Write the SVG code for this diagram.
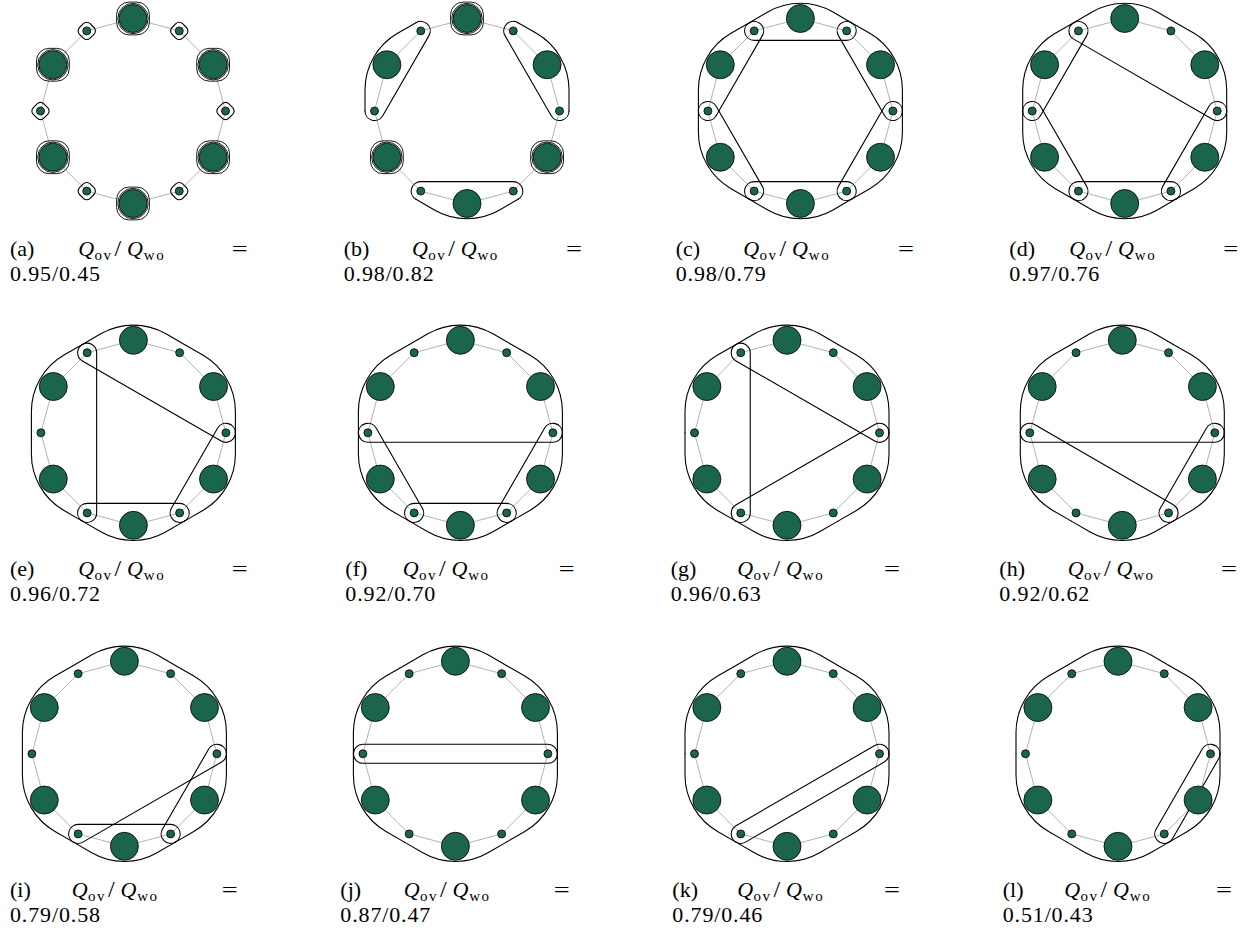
<svg xmlns="http://www.w3.org/2000/svg" xmlns:xlink="http://www.w3.org/1999/xlink" width="1248" height="932" viewBox="0 0 1248 932">
<style>
.edge{fill:none;stroke:#b3b3b3;stroke-width:1}
.B,.S{fill:#1b654c;stroke:#000;stroke-width:0.8}
.h{fill:none;stroke:#000;stroke-width:1.1;stroke-linecap:round;stroke-linejoin:round}
.h2{fill:none;stroke:#000;stroke-width:0.9}
text{font-family:"Liberation Serif","Times New Roman",serif;font-size:22px;fill:#000}
.it{font-style:italic}
.sub{font-size:15px;letter-spacing:1.5px}
.sl{font-size:24px}
</style>
<defs>
<polygon id="ring" class="edge" points="0,-92.5 46.25,-80.11 80.11,-46.25 92.5,0 80.11,46.25 46.25,80.11 0,92.5 -46.25,80.11 -80.11,46.25 -92.5,0 -80.11,-46.25 -46.25,-80.11"/>
<path id="ob" class="h" d="M-51,-88.334 L-32.6,-98.96 A65.2,65.2 0 0 1 32.6,-98.96 L51,-88.334"/>
<path id="c60" class="h" d="M51,-88.334 A9.5,9.5 0 0 1 46.25,-70.608 L-46.25,-70.608 A9.5,9.5 0 0 1 -51,-88.334"/>
<path id="c120" class="h" d="M88.334,-51 A9.5,9.5 0 0 1 80.108,-36.75 L-80.108,-36.75 A9.5,9.5 0 0 1 -88.334,-51"/>
<path id="c180" class="h" d="M102,0 A9.5,9.5 0 0 1 92.5,9.5 L-92.5,9.5 A9.5,9.5 0 0 1 -102,0"/>
<path id="c240" class="h" d="M88.334,51 A9.5,9.5 0 0 1 80.108,55.75 L-80.108,55.75 A9.5,9.5 0 0 1 -88.334,51"/>
<path id="c300" class="h" d="M51,88.334 A9.5,9.5 0 0 1 46.25,89.608 L-46.25,89.608 A9.5,9.5 0 0 1 -51,88.334"/>
<rect id="ss" class="h" x="-7.5" y="-7.5" width="15" height="15" rx="4.8" transform="rotate(45)"/>
<g id="sb"><circle class="h2" r="15.2"/><rect class="h2" x="-16.4" y="-16.4" width="32.8" height="32.8" rx="12.5"/></g>
</defs>

<!-- Panel a -->
<g id="panel-a" transform="translate(133,111)">
<g class="connectors"><use href="#ring"/></g>
<g id="a-communities">
<use href="#sb" x="0" y="-92.5"/><use href="#sb" x="80.11" y="-46.25"/><use href="#sb" x="80.11" y="46.25"/><use href="#sb" x="0" y="92.5"/><use href="#sb" x="-80.11" y="46.25"/><use href="#sb" x="-80.11" y="-46.25"/>
<use href="#ss" x="46.25" y="-80.11"/><use href="#ss" x="92.5" y="0"/><use href="#ss" x="46.25" y="80.11"/><use href="#ss" x="-46.25" y="80.11"/><use href="#ss" x="-92.5" y="0"/><use href="#ss" x="-46.25" y="-80.11"/>
</g>
<g id="a-n0"><circle class="B" cx="0" cy="-92.5" r="14"/></g>
<g id="a-n1"><circle class="S" cx="46.25" cy="-80.11" r="4"/></g>
<g id="a-n2"><circle class="B" cx="80.11" cy="-46.25" r="14"/></g>
<g id="a-n3"><circle class="S" cx="92.5" cy="0" r="4"/></g>
<g id="a-n4"><circle class="B" cx="80.11" cy="46.25" r="14"/></g>
<g id="a-n5"><circle class="S" cx="46.25" cy="80.11" r="4"/></g>
<g id="a-n6"><circle class="B" cx="0" cy="92.5" r="14"/></g>
<g id="a-n7"><circle class="S" cx="-46.25" cy="80.11" r="4"/></g>
<g id="a-n8"><circle class="B" cx="-80.11" cy="46.25" r="14"/></g>
<g id="a-n9"><circle class="S" cx="-92.5" cy="0" r="4"/></g>
<g id="a-n10"><circle class="B" cx="-80.11" cy="-46.25" r="14"/></g>
<g id="a-n11"><circle class="S" cx="-46.25" cy="-80.11" r="4"/></g>
</g>

<!-- Panel b -->
<g id="panel-b" transform="translate(467,111)">
<g class="connectors"><use href="#ring"/></g>
<g id="b-communities">
<g><use href="#ob" transform="rotate(300)"/><use href="#c60" transform="rotate(300)"/></g>
<g><use href="#ob" transform="rotate(60)"/><use href="#c60" transform="rotate(60)"/></g>
<g><use href="#ob" transform="rotate(180)"/><use href="#c60" transform="rotate(180)"/></g>
<use href="#sb" x="0" y="-92.5"/><use href="#sb" x="80.11" y="46.25"/><use href="#sb" x="-80.11" y="46.25"/>
</g>
<g id="b-n0"><circle class="B" cx="0" cy="-92.5" r="14"/></g>
<g id="b-n1"><circle class="S" cx="46.25" cy="-80.11" r="4"/></g>
<g id="b-n2"><circle class="B" cx="80.11" cy="-46.25" r="14"/></g>
<g id="b-n3"><circle class="S" cx="92.5" cy="0" r="4"/></g>
<g id="b-n4"><circle class="B" cx="80.11" cy="46.25" r="14"/></g>
<g id="b-n5"><circle class="S" cx="46.25" cy="80.11" r="4"/></g>
<g id="b-n6"><circle class="B" cx="0" cy="92.5" r="14"/></g>
<g id="b-n7"><circle class="S" cx="-46.25" cy="80.11" r="4"/></g>
<g id="b-n8"><circle class="B" cx="-80.11" cy="46.25" r="14"/></g>
<g id="b-n9"><circle class="S" cx="-92.5" cy="0" r="4"/></g>
<g id="b-n10"><circle class="B" cx="-80.11" cy="-46.25" r="14"/></g>
<g id="b-n11"><circle class="S" cx="-46.25" cy="-80.11" r="4"/></g>
</g>

<!-- Panel c -->
<g id="panel-c" transform="translate(800.4,111)">
<g class="connectors"><use href="#ring"/></g>
<g id="c-communities">
<g><use href="#ob"/><use href="#c60"/></g>
<g><use href="#ob" transform="rotate(60)"/><use href="#c60" transform="rotate(60)"/></g>
<g><use href="#ob" transform="rotate(120)"/><use href="#c60" transform="rotate(120)"/></g>
<g><use href="#ob" transform="rotate(180)"/><use href="#c60" transform="rotate(180)"/></g>
<g><use href="#ob" transform="rotate(240)"/><use href="#c60" transform="rotate(240)"/></g>
<g><use href="#ob" transform="rotate(300)"/><use href="#c60" transform="rotate(300)"/></g>
</g>
<g id="c-n0"><circle class="B" cx="0" cy="-92.5" r="14"/></g>
<g id="c-n1"><circle class="S" cx="46.25" cy="-80.11" r="4"/></g>
<g id="c-n2"><circle class="B" cx="80.11" cy="-46.25" r="14"/></g>
<g id="c-n3"><circle class="S" cx="92.5" cy="0" r="4"/></g>
<g id="c-n4"><circle class="B" cx="80.11" cy="46.25" r="14"/></g>
<g id="c-n5"><circle class="S" cx="46.25" cy="80.11" r="4"/></g>
<g id="c-n6"><circle class="B" cx="0" cy="92.5" r="14"/></g>
<g id="c-n7"><circle class="S" cx="-46.25" cy="80.11" r="4"/></g>
<g id="c-n8"><circle class="B" cx="-80.11" cy="46.25" r="14"/></g>
<g id="c-n9"><circle class="S" cx="-92.5" cy="0" r="4"/></g>
<g id="c-n10"><circle class="B" cx="-80.11" cy="-46.25" r="14"/></g>
<g id="c-n11"><circle class="S" cx="-46.25" cy="-80.11" r="4"/></g>
</g>

<!-- Panel d -->
<g id="panel-d" transform="translate(1124.7,111)">
<g class="connectors"><use href="#ring"/></g>
<g id="d-communities">
<g><use href="#ob"/><use href="#ob" transform="rotate(60)"/><use href="#c120" transform="rotate(30)"/></g>
<g><use href="#ob" transform="rotate(120)"/><use href="#c60" transform="rotate(120)"/></g>
<g><use href="#ob" transform="rotate(180)"/><use href="#c60" transform="rotate(180)"/></g>
<g><use href="#ob" transform="rotate(240)"/><use href="#c60" transform="rotate(240)"/></g>
<g><use href="#ob" transform="rotate(300)"/><use href="#c60" transform="rotate(300)"/></g>
</g>
<g id="d-n0"><circle class="B" cx="0" cy="-92.5" r="14"/></g>
<g id="d-n1"><circle class="S" cx="46.25" cy="-80.11" r="4"/></g>
<g id="d-n2"><circle class="B" cx="80.11" cy="-46.25" r="14"/></g>
<g id="d-n3"><circle class="S" cx="92.5" cy="0" r="4"/></g>
<g id="d-n4"><circle class="B" cx="80.11" cy="46.25" r="14"/></g>
<g id="d-n5"><circle class="S" cx="46.25" cy="80.11" r="4"/></g>
<g id="d-n6"><circle class="B" cx="0" cy="92.5" r="14"/></g>
<g id="d-n7"><circle class="S" cx="-46.25" cy="80.11" r="4"/></g>
<g id="d-n8"><circle class="B" cx="-80.11" cy="46.25" r="14"/></g>
<g id="d-n9"><circle class="S" cx="-92.5" cy="0" r="4"/></g>
<g id="d-n10"><circle class="B" cx="-80.11" cy="-46.25" r="14"/></g>
<g id="d-n11"><circle class="S" cx="-46.25" cy="-80.11" r="4"/></g>
</g>

<!-- Panel e -->
<g id="panel-e" transform="translate(133.4,432.8)">
<g class="connectors"><use href="#ring"/></g>
<g id="e-communities">
<g><use href="#ob"/><use href="#ob" transform="rotate(60)"/><use href="#c120" transform="rotate(30)"/></g>
<g><use href="#ob" transform="rotate(120)"/><use href="#c60" transform="rotate(120)"/></g>
<g><use href="#ob" transform="rotate(180)"/><use href="#c60" transform="rotate(180)"/></g>
<g><use href="#ob" transform="rotate(240)"/><use href="#ob" transform="rotate(300)"/><use href="#c120" transform="rotate(270)"/></g>
</g>
<g id="e-n0"><circle class="B" cx="0" cy="-92.5" r="14"/></g>
<g id="e-n1"><circle class="S" cx="46.25" cy="-80.11" r="4"/></g>
<g id="e-n2"><circle class="B" cx="80.11" cy="-46.25" r="14"/></g>
<g id="e-n3"><circle class="S" cx="92.5" cy="0" r="4"/></g>
<g id="e-n4"><circle class="B" cx="80.11" cy="46.25" r="14"/></g>
<g id="e-n5"><circle class="S" cx="46.25" cy="80.11" r="4"/></g>
<g id="e-n6"><circle class="B" cx="0" cy="92.5" r="14"/></g>
<g id="e-n7"><circle class="S" cx="-46.25" cy="80.11" r="4"/></g>
<g id="e-n8"><circle class="B" cx="-80.11" cy="46.25" r="14"/></g>
<g id="e-n9"><circle class="S" cx="-92.5" cy="0" r="4"/></g>
<g id="e-n10"><circle class="B" cx="-80.11" cy="-46.25" r="14"/></g>
<g id="e-n11"><circle class="S" cx="-46.25" cy="-80.11" r="4"/></g>
</g>

<!-- Panel f -->
<g id="panel-f" transform="translate(460.4,432.8)">
<g class="connectors"><use href="#ring"/></g>
<g id="f-communities">
<g><use href="#ob" transform="rotate(300)"/><use href="#ob"/><use href="#ob" transform="rotate(60)"/><use href="#c180"/></g>
<g><use href="#ob" transform="rotate(120)"/><use href="#c60" transform="rotate(120)"/></g>
<g><use href="#ob" transform="rotate(180)"/><use href="#c60" transform="rotate(180)"/></g>
<g><use href="#ob" transform="rotate(240)"/><use href="#c60" transform="rotate(240)"/></g>
</g>
<g id="f-n0"><circle class="B" cx="0" cy="-92.5" r="14"/></g>
<g id="f-n1"><circle class="S" cx="46.25" cy="-80.11" r="4"/></g>
<g id="f-n2"><circle class="B" cx="80.11" cy="-46.25" r="14"/></g>
<g id="f-n3"><circle class="S" cx="92.5" cy="0" r="4"/></g>
<g id="f-n4"><circle class="B" cx="80.11" cy="46.25" r="14"/></g>
<g id="f-n5"><circle class="S" cx="46.25" cy="80.11" r="4"/></g>
<g id="f-n6"><circle class="B" cx="0" cy="92.5" r="14"/></g>
<g id="f-n7"><circle class="S" cx="-46.25" cy="80.11" r="4"/></g>
<g id="f-n8"><circle class="B" cx="-80.11" cy="46.25" r="14"/></g>
<g id="f-n9"><circle class="S" cx="-92.5" cy="0" r="4"/></g>
<g id="f-n10"><circle class="B" cx="-80.11" cy="-46.25" r="14"/></g>
<g id="f-n11"><circle class="S" cx="-46.25" cy="-80.11" r="4"/></g>
</g>

<!-- Panel g -->
<g id="panel-g" transform="translate(787,432.8)">
<g class="connectors"><use href="#ring"/></g>
<g id="g-communities">
<g><use href="#ob"/><use href="#ob" transform="rotate(60)"/><use href="#c120" transform="rotate(30)"/></g>
<g><use href="#ob" transform="rotate(120)"/><use href="#ob" transform="rotate(180)"/><use href="#c120" transform="rotate(150)"/></g>
<g><use href="#ob" transform="rotate(240)"/><use href="#ob" transform="rotate(300)"/><use href="#c120" transform="rotate(270)"/></g>
</g>
<g id="g-n0"><circle class="B" cx="0" cy="-92.5" r="14"/></g>
<g id="g-n1"><circle class="S" cx="46.25" cy="-80.11" r="4"/></g>
<g id="g-n2"><circle class="B" cx="80.11" cy="-46.25" r="14"/></g>
<g id="g-n3"><circle class="S" cx="92.5" cy="0" r="4"/></g>
<g id="g-n4"><circle class="B" cx="80.11" cy="46.25" r="14"/></g>
<g id="g-n5"><circle class="S" cx="46.25" cy="80.11" r="4"/></g>
<g id="g-n6"><circle class="B" cx="0" cy="92.5" r="14"/></g>
<g id="g-n7"><circle class="S" cx="-46.25" cy="80.11" r="4"/></g>
<g id="g-n8"><circle class="B" cx="-80.11" cy="46.25" r="14"/></g>
<g id="g-n9"><circle class="S" cx="-92.5" cy="0" r="4"/></g>
<g id="g-n10"><circle class="B" cx="-80.11" cy="-46.25" r="14"/></g>
<g id="g-n11"><circle class="S" cx="-46.25" cy="-80.11" r="4"/></g>
</g>

<!-- Panel h -->
<g id="panel-h" transform="translate(1122.3,432.8)">
<g class="connectors"><use href="#ring"/></g>
<g id="h-communities">
<g><use href="#ob" transform="rotate(300)"/><use href="#ob"/><use href="#ob" transform="rotate(60)"/><use href="#c180"/></g>
<g><use href="#ob" transform="rotate(120)"/><use href="#c60" transform="rotate(120)"/></g>
<g><use href="#ob" transform="rotate(180)"/><use href="#ob" transform="rotate(240)"/><use href="#c120" transform="rotate(210)"/></g>
</g>
<g id="h-n0"><circle class="B" cx="0" cy="-92.5" r="14"/></g>
<g id="h-n1"><circle class="S" cx="46.25" cy="-80.11" r="4"/></g>
<g id="h-n2"><circle class="B" cx="80.11" cy="-46.25" r="14"/></g>
<g id="h-n3"><circle class="S" cx="92.5" cy="0" r="4"/></g>
<g id="h-n4"><circle class="B" cx="80.11" cy="46.25" r="14"/></g>
<g id="h-n5"><circle class="S" cx="46.25" cy="80.11" r="4"/></g>
<g id="h-n6"><circle class="B" cx="0" cy="92.5" r="14"/></g>
<g id="h-n7"><circle class="S" cx="-46.25" cy="80.11" r="4"/></g>
<g id="h-n8"><circle class="B" cx="-80.11" cy="46.25" r="14"/></g>
<g id="h-n9"><circle class="S" cx="-92.5" cy="0" r="4"/></g>
<g id="h-n10"><circle class="B" cx="-80.11" cy="-46.25" r="14"/></g>
<g id="h-n11"><circle class="S" cx="-46.25" cy="-80.11" r="4"/></g>
</g>

<!-- Panel i -->
<g id="panel-i" transform="translate(124.4,753.8)">
<g class="connectors"><use href="#ring"/></g>
<g id="i-communities">
<g><use href="#ob" transform="rotate(240)"/><use href="#ob" transform="rotate(300)"/><use href="#ob"/><use href="#ob" transform="rotate(60)"/><use href="#c240" transform="rotate(330)"/></g>
<g><use href="#ob" transform="rotate(120)"/><use href="#c60" transform="rotate(120)"/></g>
<g><use href="#ob" transform="rotate(180)"/><use href="#c60" transform="rotate(180)"/></g>
</g>
<g id="i-n0"><circle class="B" cx="0" cy="-92.5" r="14"/></g>
<g id="i-n1"><circle class="S" cx="46.25" cy="-80.11" r="4"/></g>
<g id="i-n2"><circle class="B" cx="80.11" cy="-46.25" r="14"/></g>
<g id="i-n3"><circle class="S" cx="92.5" cy="0" r="4"/></g>
<g id="i-n4"><circle class="B" cx="80.11" cy="46.25" r="14"/></g>
<g id="i-n5"><circle class="S" cx="46.25" cy="80.11" r="4"/></g>
<g id="i-n6"><circle class="B" cx="0" cy="92.5" r="14"/></g>
<g id="i-n7"><circle class="S" cx="-46.25" cy="80.11" r="4"/></g>
<g id="i-n8"><circle class="B" cx="-80.11" cy="46.25" r="14"/></g>
<g id="i-n9"><circle class="S" cx="-92.5" cy="0" r="4"/></g>
<g id="i-n10"><circle class="B" cx="-80.11" cy="-46.25" r="14"/></g>
<g id="i-n11"><circle class="S" cx="-46.25" cy="-80.11" r="4"/></g>
</g>

<!-- Panel j -->
<g id="panel-j" transform="translate(455.4,753.8)">
<g class="connectors"><use href="#ring"/></g>
<g id="j-communities">
<g><use href="#ob" transform="rotate(300)"/><use href="#ob"/><use href="#ob" transform="rotate(60)"/><use href="#c180"/></g>
<g><use href="#ob" transform="rotate(120)"/><use href="#ob" transform="rotate(180)"/><use href="#ob" transform="rotate(240)"/><use href="#c180" transform="rotate(180)"/></g>
</g>
<g id="j-n0"><circle class="B" cx="0" cy="-92.5" r="14"/></g>
<g id="j-n1"><circle class="S" cx="46.25" cy="-80.11" r="4"/></g>
<g id="j-n2"><circle class="B" cx="80.11" cy="-46.25" r="14"/></g>
<g id="j-n3"><circle class="S" cx="92.5" cy="0" r="4"/></g>
<g id="j-n4"><circle class="B" cx="80.11" cy="46.25" r="14"/></g>
<g id="j-n5"><circle class="S" cx="46.25" cy="80.11" r="4"/></g>
<g id="j-n6"><circle class="B" cx="0" cy="92.5" r="14"/></g>
<g id="j-n7"><circle class="S" cx="-46.25" cy="80.11" r="4"/></g>
<g id="j-n8"><circle class="B" cx="-80.11" cy="46.25" r="14"/></g>
<g id="j-n9"><circle class="S" cx="-92.5" cy="0" r="4"/></g>
<g id="j-n10"><circle class="B" cx="-80.11" cy="-46.25" r="14"/></g>
<g id="j-n11"><circle class="S" cx="-46.25" cy="-80.11" r="4"/></g>
</g>

<!-- Panel k -->
<g id="panel-k" transform="translate(787,753.8)">
<g class="connectors"><use href="#ring"/></g>
<g id="k-communities">
<g><use href="#ob" transform="rotate(240)"/><use href="#ob" transform="rotate(300)"/><use href="#ob"/><use href="#ob" transform="rotate(60)"/><use href="#c240" transform="rotate(330)"/></g>
<g><use href="#ob" transform="rotate(120)"/><use href="#ob" transform="rotate(180)"/><use href="#c120" transform="rotate(150)"/></g>
</g>
<g id="k-n0"><circle class="B" cx="0" cy="-92.5" r="14"/></g>
<g id="k-n1"><circle class="S" cx="46.25" cy="-80.11" r="4"/></g>
<g id="k-n2"><circle class="B" cx="80.11" cy="-46.25" r="14"/></g>
<g id="k-n3"><circle class="S" cx="92.5" cy="0" r="4"/></g>
<g id="k-n4"><circle class="B" cx="80.11" cy="46.25" r="14"/></g>
<g id="k-n5"><circle class="S" cx="46.25" cy="80.11" r="4"/></g>
<g id="k-n6"><circle class="B" cx="0" cy="92.5" r="14"/></g>
<g id="k-n7"><circle class="S" cx="-46.25" cy="80.11" r="4"/></g>
<g id="k-n8"><circle class="B" cx="-80.11" cy="46.25" r="14"/></g>
<g id="k-n9"><circle class="S" cx="-92.5" cy="0" r="4"/></g>
<g id="k-n10"><circle class="B" cx="-80.11" cy="-46.25" r="14"/></g>
<g id="k-n11"><circle class="S" cx="-46.25" cy="-80.11" r="4"/></g>
</g>

<!-- Panel l -->
<g id="panel-l" transform="translate(1118,753.8)">
<g class="connectors"><use href="#ring"/></g>
<g id="l-communities">
<g><use href="#ob" transform="rotate(180)"/><use href="#ob" transform="rotate(240)"/><use href="#ob" transform="rotate(300)"/><use href="#ob"/><use href="#ob" transform="rotate(60)"/><use href="#c300" transform="rotate(300)"/></g>
<g><use href="#ob" transform="rotate(120)"/><use href="#c60" transform="rotate(120)"/></g>
</g>
<g id="l-n0"><circle class="B" cx="0" cy="-92.5" r="14"/></g>
<g id="l-n1"><circle class="S" cx="46.25" cy="-80.11" r="4"/></g>
<g id="l-n2"><circle class="B" cx="80.11" cy="-46.25" r="14"/></g>
<g id="l-n3"><circle class="S" cx="92.5" cy="0" r="4"/></g>
<g id="l-n4"><circle class="B" cx="80.11" cy="46.25" r="14"/></g>
<g id="l-n5"><circle class="S" cx="46.25" cy="80.11" r="4"/></g>
<g id="l-n6"><circle class="B" cx="0" cy="92.5" r="14"/></g>
<g id="l-n7"><circle class="S" cx="-46.25" cy="80.11" r="4"/></g>
<g id="l-n8"><circle class="B" cx="-80.11" cy="46.25" r="14"/></g>
<g id="l-n9"><circle class="S" cx="-92.5" cy="0" r="4"/></g>
<g id="l-n10"><circle class="B" cx="-80.11" cy="-46.25" r="14"/></g>
<g id="l-n11"><circle class="S" cx="-46.25" cy="-80.11" r="4"/></g>
</g>

<!-- Captions -->
<g id="captions">
<g transform="translate(10,255.5)"><text x="0">(a)</text><text><tspan x="68.3" class="it">Q</tspan><tspan x="84.5" dy="4" class="sub">ov</tspan><tspan x="104.5" dy="-4" class="sl">/</tspan><tspan x="117" class="it">Q</tspan><tspan x="133.8" dy="4" class="sub">wo</tspan></text><text x="221.7" textLength="16" lengthAdjust="spacingAndGlyphs">=</text><text x="0" y="25" textLength="90">0.95/0.45</text></g>
<g transform="translate(343.7,255.5)"><text x="0">(b)</text><text><tspan x="68.3" class="it">Q</tspan><tspan x="84.5" dy="4" class="sub">ov</tspan><tspan x="104.5" dy="-4" class="sl">/</tspan><tspan x="117" class="it">Q</tspan><tspan x="133.8" dy="4" class="sub">wo</tspan></text><text x="222.3" textLength="16" lengthAdjust="spacingAndGlyphs">=</text><text x="0" y="25" textLength="90">0.98/0.82</text></g>
<g transform="translate(675.7,255.5)"><text x="0">(c)</text><text><tspan x="67.6" class="it">Q</tspan><tspan x="83.8" dy="4" class="sub">ov</tspan><tspan x="103.8" dy="-4" class="sl">/</tspan><tspan x="116.3" class="it">Q</tspan><tspan x="133.1" dy="4" class="sub">wo</tspan></text><text x="222.3" textLength="16" lengthAdjust="spacingAndGlyphs">=</text><text x="0" y="25" textLength="90">0.98/0.79</text></g>
<g transform="translate(1009.3,255.5)"><text x="0">(d)</text><text><tspan x="60" class="it">Q</tspan><tspan x="76.2" dy="4" class="sub">ov</tspan><tspan x="96.2" dy="-4" class="sl">/</tspan><tspan x="108.7" class="it">Q</tspan><tspan x="125.5" dy="4" class="sub">wo</tspan></text><text x="214" textLength="15" lengthAdjust="spacingAndGlyphs">=</text><text x="0" y="25" textLength="90">0.97/0.76</text></g>

<g transform="translate(10,576)"><text x="0">(e)</text><text><tspan x="68.3" class="it">Q</tspan><tspan x="84.5" dy="4" class="sub">ov</tspan><tspan x="104.5" dy="-4" class="sl">/</tspan><tspan x="117" class="it">Q</tspan><tspan x="133.8" dy="4" class="sub">wo</tspan></text><text x="221.7" textLength="16" lengthAdjust="spacingAndGlyphs">=</text><text x="0" y="25" textLength="90">0.96/0.72</text></g>
<g transform="translate(345.3,576)"><text x="0">(f)</text><text><tspan x="57.4" class="it">Q</tspan><tspan x="73.6" dy="4" class="sub">ov</tspan><tspan x="93.6" dy="-4" class="sl">/</tspan><tspan x="106.1" class="it">Q</tspan><tspan x="122.9" dy="4" class="sub">wo</tspan></text><text x="213.4" textLength="16" lengthAdjust="spacingAndGlyphs">=</text><text x="0" y="25" textLength="90">0.92/0.70</text></g>
<g transform="translate(670.7,576)"><text x="0">(g)</text><text><tspan x="66.6" class="it">Q</tspan><tspan x="82.8" dy="4" class="sub">ov</tspan><tspan x="102.8" dy="-4" class="sl">/</tspan><tspan x="115.3" class="it">Q</tspan><tspan x="132.1" dy="4" class="sub">wo</tspan></text><text x="213.3" textLength="16" lengthAdjust="spacingAndGlyphs">=</text><text x="0" y="25" textLength="90">0.96/0.63</text></g>
<g transform="translate(999.3,576)"><text x="0">(h)</text><text><tspan x="68.4" class="it">Q</tspan><tspan x="84.6" dy="4" class="sub">ov</tspan><tspan x="104.6" dy="-4" class="sl">/</tspan><tspan x="117.1" class="it">Q</tspan><tspan x="133.9" dy="4" class="sub">wo</tspan></text><text x="221.7" textLength="16" lengthAdjust="spacingAndGlyphs">=</text><text x="0" y="25" textLength="90">0.92/0.62</text></g>

<g transform="translate(10,896.5)"><text x="0">(i)</text><text><tspan x="61.7" class="it">Q</tspan><tspan x="77.9" dy="4" class="sub">ov</tspan><tspan x="97.9" dy="-4" class="sl">/</tspan><tspan x="110.4" class="it">Q</tspan><tspan x="127.2" dy="4" class="sub">wo</tspan></text><text x="211.7" textLength="16" lengthAdjust="spacingAndGlyphs">=</text><text x="0" y="25" textLength="90">0.79/0.58</text></g>
<g transform="translate(340.3,896.5)"><text x="0">(j)</text><text><tspan x="63.4" class="it">Q</tspan><tspan x="79.6" dy="4" class="sub">ov</tspan><tspan x="99.6" dy="-4" class="sl">/</tspan><tspan x="112.1" class="it">Q</tspan><tspan x="128.9" dy="4" class="sub">wo</tspan></text><text x="213.4" textLength="16" lengthAdjust="spacingAndGlyphs">=</text><text x="0" y="25" textLength="90">0.87/0.47</text></g>
<g transform="translate(672.3,896.5)"><text x="0">(k)</text><text><tspan x="65" class="it">Q</tspan><tspan x="81.2" dy="4" class="sub">ov</tspan><tspan x="101.2" dy="-4" class="sl">/</tspan><tspan x="113.7" class="it">Q</tspan><tspan x="130.5" dy="4" class="sub">wo</tspan></text><text x="211.7" textLength="16" lengthAdjust="spacingAndGlyphs">=</text><text x="0" y="25" textLength="90">0.79/0.46</text></g>
<g transform="translate(1002.7,896.5)"><text x="0">(l)</text><text><tspan x="61.6" class="it">Q</tspan><tspan x="77.8" dy="4" class="sub">ov</tspan><tspan x="97.8" dy="-4" class="sl">/</tspan><tspan x="110.3" class="it">Q</tspan><tspan x="127.1" dy="4" class="sub">wo</tspan></text><text x="213.3" textLength="16" lengthAdjust="spacingAndGlyphs">=</text><text x="0" y="25" textLength="90">0.51/0.43</text></g>
</g>
</svg>
